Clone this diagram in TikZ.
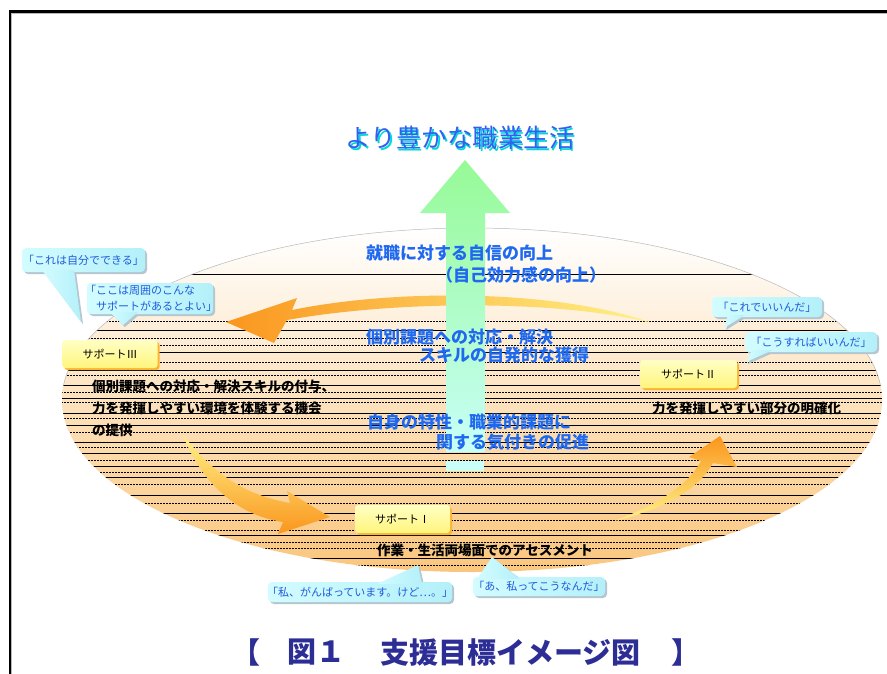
\documentclass[tikz,border=0pt]{standalone}
\usepackage{fontspec}
\newfontfamily\jp{Noto Sans CJK JP}
\usetikzlibrary{shadows}
\definecolor{ttlblue}{RGB}{50,95,240}
\definecolor{ttlcyan}{RGB}{0,215,215}
\definecolor{txtblue}{RGB}{30,105,240}
\definecolor{capblue}{RGB}{45,45,150}
\definecolor{bubtxt}{RGB}{30,90,220}
\definecolor{bubA}{RGB}{210,252,255}
\definecolor{bubB}{RGB}{180,240,250}
\definecolor{bubsh}{RGB}{180,198,208}
\definecolor{ellmid}{RGB}{253,236,214}
\definecolor{ellbot}{RGB}{250,198,125}
\definecolor{arrOr}{RGB}{250,150,30}
\definecolor{arrYe}{RGB}{255,242,135}
\definecolor{grnTop}{RGB}{150,250,150}
\definecolor{grnBot}{RGB}{200,255,248}
\definecolor{supA}{RGB}{255,255,195}
\definecolor{supB}{RGB}{255,245,125}
\definecolor{supSh}{RGB}{250,180,50}
\tikzset{
  bluetxt/.style={font=\jp\bfseries\fontsize{17}{20}\selectfont, text=txtblue, anchor=west, inner sep=0},
  blktxt/.style={font=\jp\bfseries\fontsize{13.5}{16}\selectfont, text=black, anchor=west, inner sep=0},
  bubtext/.style={font=\jp\fontsize{11}{16.5}\selectfont, text=bubtxt, inner sep=0},
  bubshade/.style={fill=bubsh},
  bubbody/.style={left color=bubA, right color=bubB},
  supbox/.style={font=\jp\fontsize{11}{13}\selectfont, top color=supA, bottom color=supB,
     rounded corners=3pt, minimum width=95pt, minimum height=28pt, inner sep=0,
     drop shadow={shadow xshift=2pt, shadow yshift=-2pt, fill=supSh, opacity=1}},
  lnsolid/.style={black, line width=0.7pt},
  lndash/.style={black, line width=0.6pt, dash pattern=on 2pt off 1pt},
}
\begin{document}
\begin{tikzpicture}[x=1pt,y=-1pt]
\useasboundingbox (0,0) rectangle (887,673);
\fill[white] (0,0) rectangle (887,673);
% frame
\draw[gray!55, line width=1.2pt] (11.8,680) -- (11.8,13.3) -- (895,13.3);
\draw[black, line width=2.2pt] (10,680) -- (10,11.5) -- (895,11.5);
% ellipse
\shade[top color=white, middle color=ellmid, bottom color=ellbot] (472,400) ellipse [x radius=410, y radius=172];
\begin{scope}
\clip (472,400) ellipse [x radius=410, y radius=172];
\foreach \yy in {274,330,352,370,385,398,413,425,442,453,466,477,495,513,535,558}
  \draw[lnsolid] (40,\yy) -- (900,\yy);
\foreach \yy in {321,338,345,362,375,392,402,418,432,447,460,472,484,503,520,530,542,548,565}
  \draw[lndash] (40,\yy) -- (900,\yy);
\end{scope}
\draw[gray!55, line width=0.5pt] (472,400) ++(185:410 and 172) arc[start angle=185, end angle=355, x radius=410, y radius=172];
% curved arrows
\shade[left color=arrOr, right color=arrYe] (652,323) .. controls (560,290) and (400,288) .. (292,310) -- (297,298) -- (226,322) -- (274,343) -- (287,320) .. controls (400,300) and (560,300) .. (652,323) -- cycle;
\shade[top color=arrYe, bottom color=arrOr] (183,435) .. controls (215,475) and (245,495) .. (290,503) -- (287,491) -- (330,517) -- (278,534) -- (283,522) .. controls (235,515) and (200,480) .. (183,435) -- cycle;
\shade[bottom color=arrYe, top color=arrOr] (615,521) .. controls (665,508) and (698,490) .. (713,463) -- (737,467) -- (720,436) -- (689,457) -- (701,461) .. controls (688,485) and (660,503) .. (615,521) -- cycle;
% green arrow
\shade[top color=grnTop, bottom color=grnBot] (465,160) -- (510,213) -- (485,213) -- (485,452) -- (446,452) -- (446,213) -- (420,213) -- cycle;
\fill[grnBot] (446,461) rectangle (484,471);
% title
\node[font=\jp\fontsize{25.5}{28}\selectfont, text=ttlcyan, inner sep=0] (ttlsh) at (461.5,139.5) {より豊かな職業生活};
\node[font=\jp\fontsize{25.5}{28}\selectfont, text=ttlblue, inner sep=0] (ttl) at (460,138) {より豊かな職業生活};
% blue texts
\node[bluetxt] (b1) at (366,253) {就職に対する自信の向上};
\node[bluetxt] (b2) at (436,275) {（自己効力感の向上）};
\node[bluetxt] (b3) at (366,337) {個別課題への対応・解決};
\node[bluetxt] (b4) at (419,355) {スキルの自発的な獲得};
\node[bluetxt] (b5) at (367,422) {自身の特性・職業的課題に};
\node[bluetxt] (b6) at (436,442) {関する気付きの促進};
% black texts
\node[blktxt] (k1) at (92,386) {個別課題への対応・解決スキルの付与、};
\node[blktxt] (k2) at (92,408) {力を発揮しやすい環境を体験する機会};
\node[blktxt] (k3) at (92,430) {の提供};
\node[blktxt] (k4) at (652,408) {力を発揮しやすい部分の明確化};
\node[blktxt] (k5) at (377,550) {作業・生活両場面でのアセスメント};
% support boxes
\node[supbox] (s3) at (110,354) {サポートⅢ};
\node[supbox, minimum width=97pt] (s2) at (688.5,374) {サポートⅡ};
\node[supbox] (s1) at (402.5,519) {サポートⅠ};
% bubbles: shadows
\begin{scope}[bubshade]
\fill[rounded corners=4pt] (24,250) rectangle (147,274);
\fill (44,272) -- (83,324) -- (76,272) -- cycle;
\fill[rounded corners=4pt] (89,285) rectangle (215,316);
\fill (112,314) -- (125,327) -- (140,314) -- cycle;
\fill[rounded corners=4pt] (714,299) rectangle (824,319);
\fill (730,317) -- (726,330) -- (747,317) -- cycle;
\fill[rounded corners=4pt] (747,334) rectangle (879,354);
\fill (754,352) -- (748,364) -- (775,352) -- cycle;
\fill[rounded corners=4pt] (270,584) rectangle (454,604);
\fill (379,585) -- (420,567) -- (424,585) -- cycle;
\fill[rounded corners=4pt] (475,579) rectangle (607,598);
\fill (479,580) -- (494,559) -- (522,580) -- cycle;
\end{scope}
% bubbles: bodies
\shade[bubbody, rounded corners=4pt] (22,248) rectangle (145,272);
\shade[bubbody] (42,270) -- (81,322) -- (74,270) -- cycle;
\shade[bubbody, rounded corners=4pt] (87,283) rectangle (213,314);
\shade[bubbody] (110,312) -- (123,325) -- (138,312) -- cycle;
\shade[bubbody, rounded corners=4pt] (712,297) rectangle (822,317);
\shade[bubbody] (728,315) -- (724,328) -- (745,315) -- cycle;
\shade[bubbody, rounded corners=4pt] (745,332) rectangle (877,352);
\shade[bubbody] (752,350) -- (746,362) -- (773,350) -- cycle;
\shade[bubbody, rounded corners=4pt] (268,582) rectangle (452,602);
\shade[bubbody] (377,584) -- (418,565) -- (422,584) -- cycle;
\shade[bubbody, rounded corners=4pt] (473,577) rectangle (605,596);
\shade[bubbody] (477,579) -- (492,557) -- (520,579) -- cycle;
% bubble texts
\node[bubtext] (t1) at (83.5,260) {「これは自分でできる」};
\node[bubtext, align=left, anchor=west] (t2) at (85,298.5) {「ここは周囲のこんな\\　サポートがあるとよい」};
\node[bubtext] (t3) at (767,307) {「これでいいんだ」};
\node[bubtext] (t4) at (811,342) {「こうすればいいんだ」};
\node[bubtext] (t5) at (360,592) {「私、がんばっています。けど…。」};
\node[bubtext] (t6) at (539,586.5) {「あ、私ってこうなんだ」};
% caption
\begin{scope}[every node/.style={font=\jp\bfseries\fontsize{29}{32}\selectfont, text=capblue, inner sep=0}]
\node (c1) at (246,652.5) {【};
\node (c2) at (316,652.5) {図１};
\node (c3) at (510.5,652.5) {支援目標イメージ図};
\node (c4) at (686,652.5) {】};
\end{scope}
\end{tikzpicture}
\end{document}
